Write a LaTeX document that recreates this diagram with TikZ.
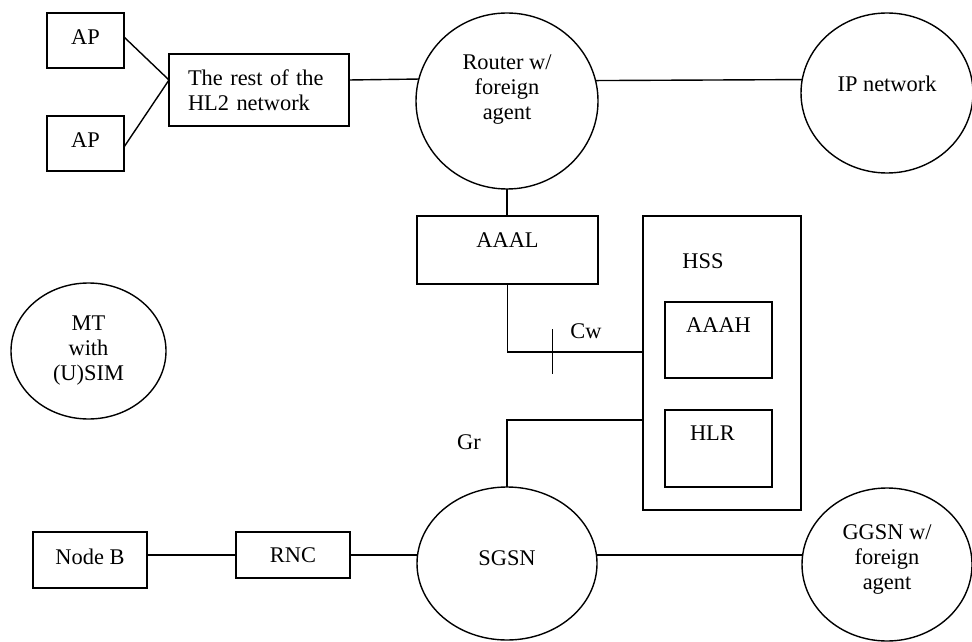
\documentclass[tikz,border=0pt]{standalone}
\usepackage{fontspec}
\setmainfont{Liberation Serif}
\usepackage{tikz}
\usetikzlibrary{shapes.geometric}
\tikzset{
  box/.style={draw, rectangle, line width=0.7pt, inner sep=0pt, outer sep=0pt},
  oval/.style={draw, ellipse, line width=0.7pt, inner sep=0pt, outer sep=0pt, align=center},
  link/.style={line width=0.7pt},
}

\begin{document}
\begin{tikzpicture}[x=0.5pt, y=-0.5pt, font=\fontsize{11.2pt}{12.5pt}\selectfont]
\useasboundingbox (0,0) rectangle (972,641);

% HL2 side
\node[box, minimum width=38.5pt, minimum height=27.5pt, text depth=3.5pt] (ap1) at (85.5,40.5) {AP};
\node[box, minimum width=38.5pt, minimum height=27.5pt, text depth=3.5pt] (ap2) at (85.5,143.5) {AP};
\node[box, minimum width=90pt, minimum height=36pt, text width=71pt, inner xsep=9.5pt, align=left] (rest) at (259,90) {The rest of the\\HL2 network};
\node[oval, minimum width=91pt, minimum height=88pt, text depth=13.75pt] (router) at (507,101) {Router w/\\foreign\\agent};
\node[oval, minimum width=86pt, minimum height=80pt, text depth=9.6pt] (ip) at (887,93) {IP network};

\draw[link] ([yshift=1.75pt]ap1.east) -- ([yshift=5pt]rest.west) -- ([yshift=-1.75pt]ap2.east);
\draw[link] ([yshift=5pt]rest.east) -- (router.166.6);
\draw[link] (router.13.4) -- (ip.171.3);

% AAA and HSS
\node[box, minimum width=90.5pt, minimum height=34pt, text depth=9.4pt] (aaal) at (507.5,250) {AAAL};
\node[box, minimum width=79pt, minimum height=147pt] (hss) at (722,363) {};
\node (hsslabel) at (703,261.5) {HSS};
\node[box, minimum width=53.5pt, minimum height=38pt, text depth=14.4pt] (aaah) at (718.5,340) {AAAH};
\node[box, minimum width=53.5pt, minimum height=38.5pt, text width=28.5pt, inner xsep=12.5pt, align=left, text depth=14.9pt] (hlr) at (718.5,448.5) {HLR};

\draw[link] (router.south) -- (router.south |- aaal.north);
\draw[link] (aaal.south) |- ([yshift=5.5pt]hss.west) coordinate[pos=0.665] (cwtick);
\draw[link] ([yshift=11.5pt]cwtick) -- ([yshift=-11pt]cwtick);
\node (cw) at (586,331.5) {Cw};

% UMTS side
\node[oval, minimum width=77.5pt, minimum height=68pt] (mt) at (88.5,351) {MT\\with\\(U)SIM};
\node[box, minimum width=57pt, minimum height=28pt, text depth=3.6pt] (nodeb) at (90,560) {Node B};
\node[box, minimum width=57pt, minimum height=23pt] (rnc) at (293,555) {RNC};
\node[oval, minimum width=90pt, minimum height=76.5pt, text depth=5.9pt] (sgsn) at (507,563.5) {SGSN};
\node[oval, minimum width=85pt, minimum height=76.5pt, text depth=7.75pt] (ggsn) at (887,564.5) {GGSN w/\\foreign\\agent};

\draw[link] (nodeb.east |- rnc.west) -- (rnc.west);
\draw[link] (rnc.east) -- (rnc.east -| sgsn.west);
\draw[link] (sgsn.east |- rnc.east) -- (ggsn.west |- rnc.east);
\draw[link] (sgsn.north) |- ([yshift=-28.5pt]hss.west);
\node (gr) at (469,442.5) {Gr};
\end{tikzpicture}
\end{document}
